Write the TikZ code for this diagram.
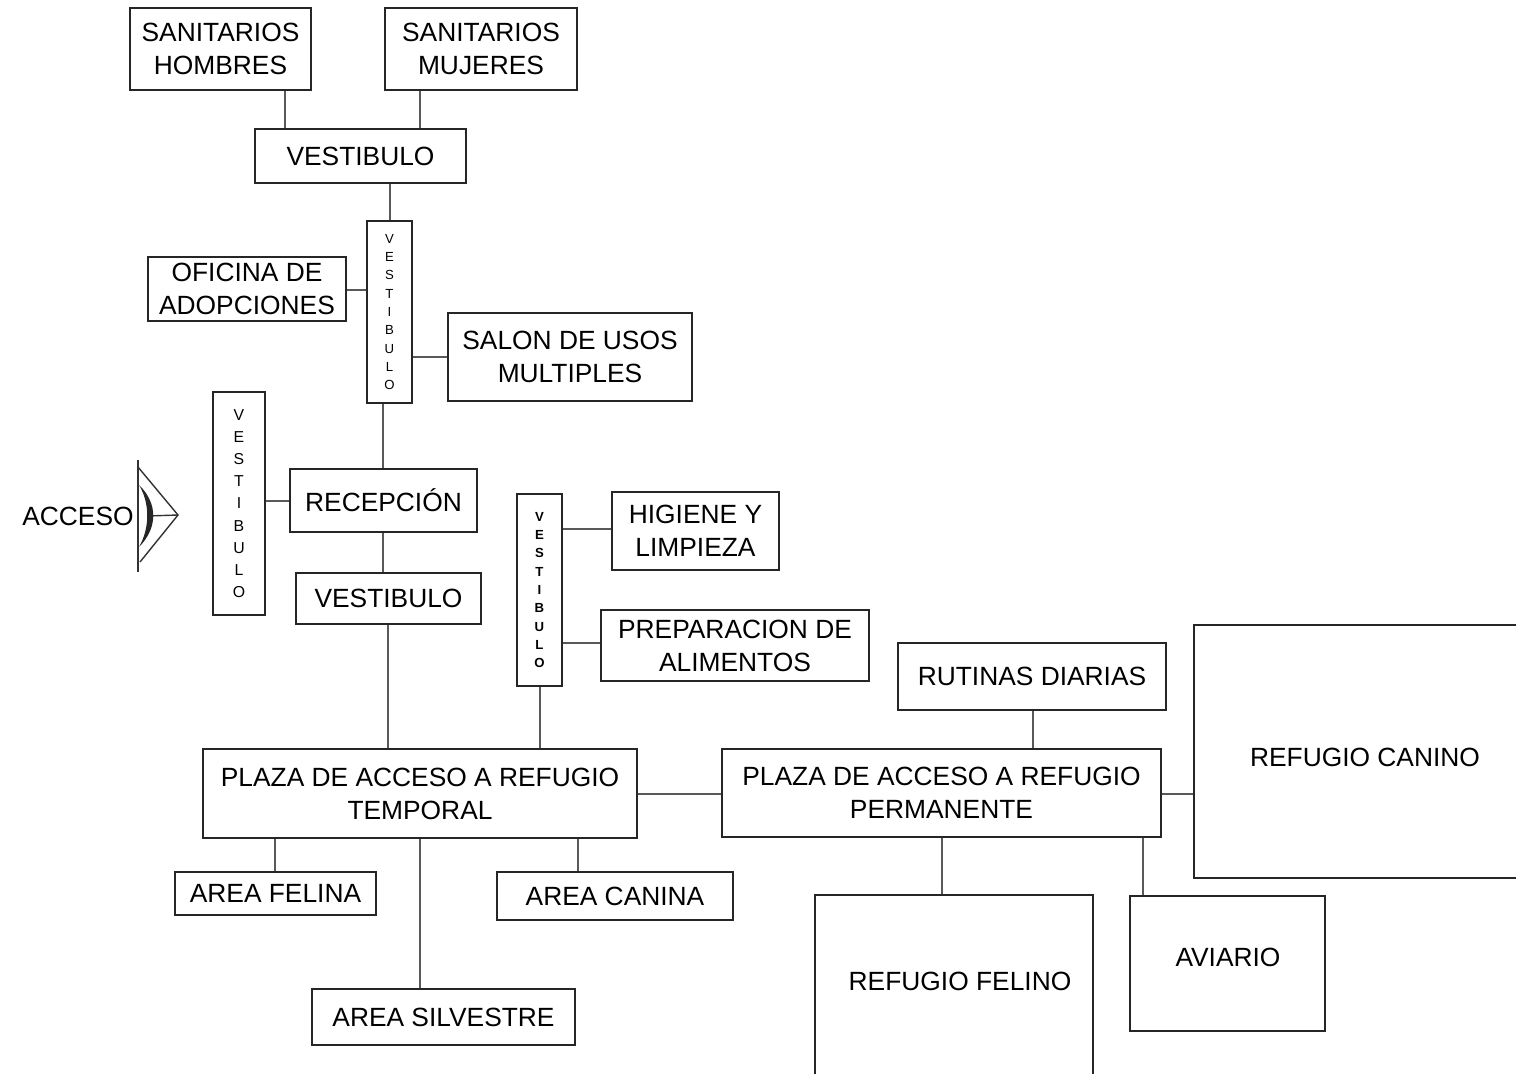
\documentclass[tikz,border=0pt]{standalone}
\usepackage{fontspec}
\setmainfont{Liberation Sans}
\usepackage{tikz}

\begin{document}
\begin{tikzpicture}[x=0.02cm,y=-0.02cm,
  caja/.style={draw=black!85,line width=1pt,inner sep=0pt,align=center,font=\fontsize{15}{18.7}\selectfont},
  vert/.style={caja,font=\fontsize{7.5}{10.4}\selectfont},
  enlace/.style={draw=black!65,line width=0.9pt}]
\useasboundingbox (0,0) rectangle (1516,1073);
\clip (0,0) rectangle (1516,1073);

\node [caja,minimum width=3.62cm,minimum height=1.64cm] (sanH) at (220.5,49) {SANITARIOS\\HOMBRES};
\node [caja,minimum width=3.84cm,minimum height=1.64cm] (sanM) at (481,49) {SANITARIOS\\MUJERES};
\node [caja,minimum width=4.22cm,minimum height=1.08cm] (vestA) at (360.5,156) {VESTIBULO};
\node [vert,minimum width=0.9cm,minimum height=3.64cm] (vv1) at (389.5,312) {V\\E\\S\\T\\I\\B\\U\\L\\O};
\node [caja,minimum width=3.96cm,minimum height=1.28cm] (ofic) at (247,289) {OFICINA DE\\ADOPCIONES};
\node [caja,minimum width=4.88cm,minimum height=1.76cm] (salon) at (570,357) {SALON DE USOS\\MULTIPLES};
\node [vert,font=\fontsize{9}{12.6}\selectfont,minimum width=1.04cm,minimum height=4.46cm] (vv2) at (239,503.5) {V\\E\\S\\T\\I\\B\\U\\L\\O};
\node [caja,minimum width=3.74cm,minimum height=1.26cm] (recep) at (383.5,500.5) {RECEPCIÓN};
\node [caja,minimum width=3.7cm,minimum height=1.02cm] (vestB) at (388.5,598.5) {VESTIBULO};
\node [vert,font=\fontsize{7.5}{10.4}\selectfont\bfseries,minimum width=0.9cm,minimum height=3.84cm] (vv3) at (539.5,590) {V\\E\\S\\T\\I\\B\\U\\L\\O};
\node [caja,minimum width=3.34cm,minimum height=1.56cm] (higiene) at (695.5,531) {HIGIENE Y\\LIMPIEZA};
\node [caja,minimum width=5.36cm,minimum height=1.42cm] (prep) at (735,645.5) {PREPARACION DE\\ALIMENTOS};
\node [caja,minimum width=8.68cm,minimum height=1.78cm] (plazaT) at (420,793.5) {PLAZA DE ACCESO A REFUGIO\\TEMPORAL};
\node [caja,minimum width=4.02cm,minimum height=0.86cm] (felina) at (275.5,893.5) {AREA FELINA};
\node [caja,minimum width=4.72cm,minimum height=0.96cm] (canina) at (615,896) {AREA CANINA};
\node [caja,minimum width=5.26cm,minimum height=1.12cm] (silvestre) at (443.5,1017) {AREA SILVESTRE};
\node [caja,minimum width=8.78cm,minimum height=1.76cm] (plazaP) at (941.5,793) {PLAZA DE ACCESO A REFUGIO\\PERMANENTE};
\node [caja,minimum width=5.36cm,minimum height=1.34cm] (rutinas) at (1032,676.5) {RUTINAS DIARIAS};
\node [caja,minimum width=6.92cm,minimum height=5.06cm] (refCan) at (1367,751.5) {};
\node [font=\fontsize{15}{18.7}\selectfont] (refCanT) at (1365,757) {REFUGIO CANINO};
\node [caja,minimum width=5.56cm,minimum height=3.9cm] (refFel) at (954,992.5) {};
\node [font=\fontsize{15}{18.7}\selectfont] (refFelT) at (960,981) {REFUGIO FELINO};
\node [caja,minimum width=3.9cm,minimum height=2.7cm] (aviario) at (1227.5,963.5) {};
\node [font=\fontsize{15}{18.7}\selectfont] (aviarioT) at (1228,957) {AVIARIO};

% acceso
\node [font=\fontsize{15}{18.7}\selectfont] (acceso) at (78,516) {ACCESO};
\draw [black!80,line width=0.8pt] (138,460) -- (138,572);
\draw [black!80,line width=0.8pt] (138,467) -- (178,515) -- (140,562);
\draw [black!80,line width=0.8pt] (147,516) -- (178,515);
\fill [black!85] (139,485) .. controls (158,503) and (158,528) .. (139,547)
  .. controls (150,528) and (150,503) .. (139,485);

% enlaces
\draw [enlace] (sanH.south -| 285,0) -- (vestA.north -| 285,0);
\draw [enlace] (sanM.south -| 420,0) -- (vestA.north -| 420,0);
\draw [enlace] (vestA.south -| 390,0) -- (vv1.north -| 390,0);
\draw [enlace] (ofic.east |- 0,290) -- (vv1.west |- 0,290);
\draw [enlace] (vv1.east |- 0,357) -- (salon.west |- 0,357);
\draw [enlace] (vv1.south -| 383,0) -- (recep.north -| 383,0);
\draw [enlace] (vv2.east |- 0,501) -- (recep.west |- 0,501);
\draw [enlace] (recep.south -| 383,0) -- (vestB.north -| 383,0);
\draw [enlace] (vestB.south -| 388,0) -- (plazaT.north -| 388,0);
\draw [enlace] (vv3.east |- 0,529) -- (higiene.west |- 0,529);
\draw [enlace] (vv3.east |- 0,643) -- (prep.west |- 0,643);
\draw [enlace] (vv3.south -| 540,0) -- (plazaT.north -| 540,0);
\draw [enlace] (plazaT.south -| 275,0) -- (felina.north -| 275,0);
\draw [enlace] (plazaT.south -| 578,0) -- (canina.north -| 578,0);
\draw [enlace] (plazaT.south -| 420,0) -- (silvestre.north -| 420,0);
\draw [enlace] (plazaT.east |- 0,794) -- (plazaP.west |- 0,794);
\draw [enlace] (rutinas.south -| 1033,0) -- (plazaP.north -| 1033,0);
\draw [enlace] (plazaP.east |- 0,794) -- (refCan.west |- 0,794);
\draw [enlace] (plazaP.south -| 942,0) -- (refFel.north -| 942,0);
\draw [enlace] (plazaP.south -| 1143,0) -- (aviario.north -| 1143,0);
\end{tikzpicture}
\end{document}
